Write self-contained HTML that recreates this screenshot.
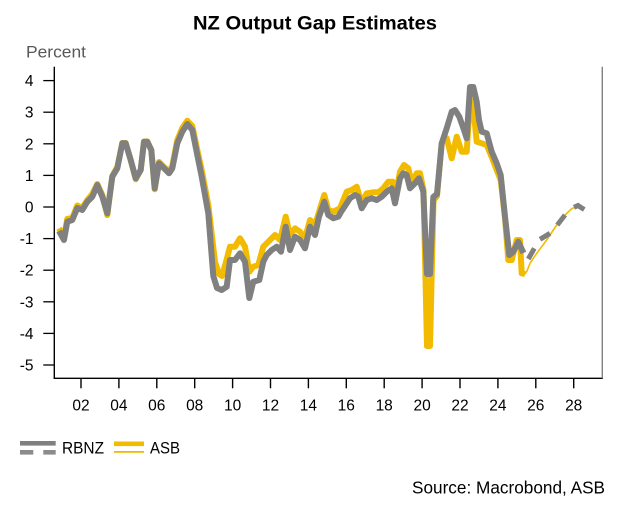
<!DOCTYPE html>
<html>
<head>
<meta charset="utf-8">
<style>
  html, body { margin: 0; padding: 0; background: #ffffff; }
  svg { display: block; }
  text { font-family: "Liberation Sans", sans-serif; }
</style>
</head>
<body>
<svg width="631" height="508" viewBox="0 0 631 508" xmlns="http://www.w3.org/2000/svg">
  <rect x="0" y="0" width="631" height="508" fill="#ffffff"/>

  <!-- Title -->
  <text x="193" y="29.5" font-size="19.5" font-weight="bold" fill="#000" textLength="244" lengthAdjust="spacingAndGlyphs">NZ Output Gap Estimates</text>

  <!-- Percent label -->
  <text x="26" y="57.5" font-size="17" fill="#595959" textLength="60" lengthAdjust="spacingAndGlyphs">Percent</text>

  <!-- Axes -->
  <line x1="54.3" y1="66.7" x2="54.3" y2="378.3" stroke="#000" stroke-width="1.4"/>
  <line x1="53.6" y1="378.3" x2="602.8" y2="378.3" stroke="#000" stroke-width="1.4"/>
  <line x1="602.3" y1="66.7" x2="602.3" y2="378.3" stroke="#808080" stroke-width="1.4"/>

  <!-- Y ticks -->
  <g stroke="#000" stroke-width="1.3">
    <line x1="43.3" y1="80.6" x2="54.3" y2="80.6"/>
    <line x1="43.3" y1="112.2" x2="54.3" y2="112.2"/>
    <line x1="43.3" y1="143.8" x2="54.3" y2="143.8"/>
    <line x1="43.3" y1="175.4" x2="54.3" y2="175.4"/>
    <line x1="43.3" y1="207" x2="54.3" y2="207"/>
    <line x1="43.3" y1="238.6" x2="54.3" y2="238.6"/>
    <line x1="43.3" y1="270.2" x2="54.3" y2="270.2"/>
    <line x1="43.3" y1="301.8" x2="54.3" y2="301.8"/>
    <line x1="43.3" y1="333.4" x2="54.3" y2="333.4"/>
    <line x1="43.3" y1="365" x2="54.3" y2="365"/>
  </g>
  <g font-size="15.5" fill="#000" text-anchor="end">
    <text x="33.5" y="86.1">4</text>
    <text x="33.5" y="117.7">3</text>
    <text x="33.5" y="149.3">2</text>
    <text x="33.5" y="180.9">1</text>
    <text x="33.5" y="212.5">0</text>
    <text x="33.5" y="244.1">-1</text>
    <text x="33.5" y="275.7">-2</text>
    <text x="33.5" y="307.3">-3</text>
    <text x="33.5" y="338.9">-4</text>
    <text x="33.5" y="370.5">-5</text>
  </g>

  <!-- X ticks -->
  <g stroke="#000" stroke-width="1.4">
    <line x1="81" y1="378.3" x2="81" y2="388.3"/>
    <line x1="118.9" y1="378.3" x2="118.9" y2="388.3"/>
    <line x1="156.8" y1="378.3" x2="156.8" y2="388.3"/>
    <line x1="194.7" y1="378.3" x2="194.7" y2="388.3"/>
    <line x1="232.6" y1="378.3" x2="232.6" y2="388.3"/>
    <line x1="270.5" y1="378.3" x2="270.5" y2="388.3"/>
    <line x1="308.4" y1="378.3" x2="308.4" y2="388.3"/>
    <line x1="346.3" y1="378.3" x2="346.3" y2="388.3"/>
    <line x1="384.2" y1="378.3" x2="384.2" y2="388.3"/>
    <line x1="422.1" y1="378.3" x2="422.1" y2="388.3"/>
    <line x1="460" y1="378.3" x2="460" y2="388.3"/>
    <line x1="497.9" y1="378.3" x2="497.9" y2="388.3"/>
    <line x1="535.8" y1="378.3" x2="535.8" y2="388.3"/>
    <line x1="573.7" y1="378.3" x2="573.7" y2="388.3"/>
  </g>
  <g font-size="15.5" fill="#000" text-anchor="middle">
    <text x="81" y="410.7">02</text>
    <text x="118.9" y="410.7">04</text>
    <text x="156.8" y="410.7">06</text>
    <text x="194.7" y="410.7">08</text>
    <text x="232.6" y="410.7">10</text>
    <text x="270.5" y="410.7">12</text>
    <text x="308.4" y="410.7">14</text>
    <text x="346.3" y="410.7">16</text>
    <text x="384.2" y="410.7">18</text>
    <text x="422.1" y="410.7">20</text>
    <text x="460" y="410.7">22</text>
    <text x="497.9" y="410.7">24</text>
    <text x="535.8" y="410.7">26</text>
    <text x="573.7" y="410.7">28</text>
  </g>

  <!-- ASB thick -->
  <polyline fill="none" stroke="#F2BB00" stroke-width="6" stroke-linejoin="round"
    points="59,228.3 64,237 67.3,219 72.3,218 77.3,205.5 82.3,208 87.3,200 92.3,194 97.3,184 102.3,195 107.3,215 112.3,176 117.3,167 122.3,143 125.7,143 130.7,160 135.7,179.3 140.7,170 144,141.5 147.3,141.5 151.3,150 154.7,189.3 159,162 164,167 169,171.5 172.3,166 177.3,140 182.3,128 187.3,120.7 192.3,126 197.3,150 201.7,170 208.3,205 215,262 219,274 222,276 226,262 230,246.7 235,246.7 240,238.3 245,246.7 249.3,271.7 253.3,266.7 258.3,265 263.3,246.7 268.3,241.7 275,235 280,240 285.7,216.7 290,235 295,228.3 300,231.7 305,238.3 310,220 315,225 319,212 324.3,195 328.3,210 333.3,211.7 340,208.3 346.7,191.7 351.7,190 356.7,186.7 361.7,203.3 366.7,193.3 373.3,192.3 378.3,192.3 383.3,188.3 388.3,181.7 392.7,181.7 395,198.3 400,171.7 404,165 408.3,168.3 411.7,183.3 416.7,173.3 420,173.3 423.5,190 427,346 430,346 433.5,200 437,196 441.7,143.3 446.7,138.3 451.7,158.3 456.7,136.7 461.7,151.7 466.7,151.7 470,101.7 472.7,101 476.7,141.7 481.7,143.3 486.7,145 491.7,157 496.7,170 500.7,180 505,218 508.3,260 511.7,260 516.7,240 520,240 521.7,273.3 525,274"/>
  <!-- ASB thin -->
  <polyline fill="none" stroke="#F2BB00" stroke-width="1.6" stroke-linejoin="round"
    points="524,275 527,271 530,263.3 536.7,253.3 546.7,240 556.7,225 566.7,213.3 572,208.5 576.7,206.7 581.7,208.3"/>

  <!-- RBNZ solid -->
  <polyline fill="none" stroke="#808080" stroke-width="6" stroke-linejoin="round"
    points="59,231 64,240 67.3,221.7 72.3,220 77.3,208 82.3,210 87.3,201.7 92.3,196.7 97.3,185 102.3,196.7 107.3,213.3 112.3,176.7 117.3,168.3 122.3,143.3 125.7,143.3 130.7,160 135.7,178.3 140.7,170 144,141.7 147.3,141.7 151.3,150 154.7,188.3 159,163.3 164,168.3 169,173.3 172.3,168.3 177.3,143.3 182.3,131.7 187.3,124 192.3,130 197.3,155 201.7,176.7 208.3,213.3 213.3,276 217,288 221.7,290 226.7,286.7 230,260 235,260 240,253.3 245,261.7 249.3,298 253.3,281.7 259.3,280 263.3,261.7 266.7,255 271.7,250 276.7,246.7 281,251.7 285.7,226.7 290,250 295,236.7 300,240 305,248.3 310,226.7 315,235 319,216.7 324.3,201.7 328.3,215 333.3,218.3 338.3,216.7 341,212 345,206 350,198.3 355,195 358.3,196.7 361.7,208.3 366.7,200 371.7,198.3 376.7,200 381.7,196.7 386.7,191.7 391.7,188.3 395,203.3 400,178.3 403.3,173.3 406.7,175 410,188.3 415,183.3 419,178.3 423.3,191.7 427,274 430,274 433.3,197 437,194 441.7,143.3 446.7,128.3 451.7,111.7 455,110 459.3,116.7 464,130 466.7,138.3 470,87 473.3,87 476.7,101.7 479,120 481.7,131.7 486.7,133.3 491.7,151.7 496.7,163.3 500.7,175 505,216.7 509.3,255 513.3,251.7 518.3,241.7 523.5,253"/>
  <!-- RBNZ dashed projection -->
  <g fill="none" stroke="#808080" stroke-width="5" stroke-linecap="butt">
    <line x1="528.3" y1="259" x2="534.3" y2="248.3"/>
    <line x1="540" y1="239.3" x2="550" y2="233.3"/>
    <line x1="557.3" y1="225" x2="565" y2="215"/>
    <polyline points="574,207.3 578,205.5 581,207.5 584.3,209.5"/>
  </g>

  <!-- Legend -->
  <rect x="20" y="441" width="35.7" height="4.6" fill="#808080"/>
  <rect x="20" y="450" width="13.3" height="4.6" fill="#8c8c8c"/>
  <rect x="43.3" y="450" width="12.4" height="4.6" fill="#8c8c8c"/>
  <text x="62" y="453.3" font-size="16.5" fill="#000" textLength="42" lengthAdjust="spacingAndGlyphs">RBNZ</text>
  <rect x="114" y="441.5" width="30" height="4.6" fill="#F2BB00"/>
  <rect x="114" y="451" width="30" height="1.8" fill="#F2BB00"/>
  <text x="150" y="453.3" font-size="16.5" fill="#000" textLength="30" lengthAdjust="spacingAndGlyphs">ASB</text>

  <!-- Source -->
  <text x="412" y="493.3" font-size="17.5" fill="#000" textLength="193" lengthAdjust="spacingAndGlyphs">Source: Macrobond, ASB</text>
</svg>
</body>
</html>
